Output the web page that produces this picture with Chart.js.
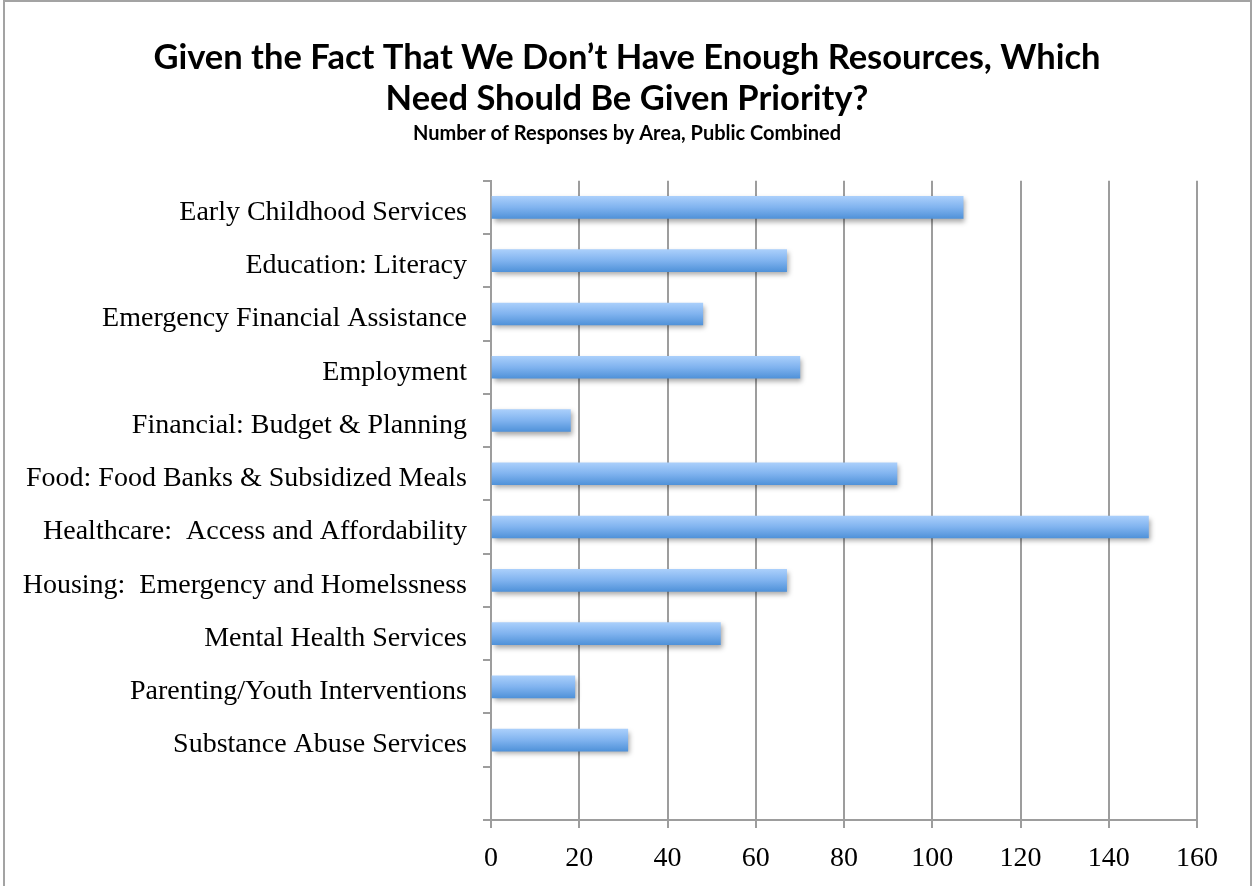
<!DOCTYPE html>
<html lang="en">
<head>
  <meta charset="UTF-8">
  <title>Priority Needs - Number of Responses by Area</title>
  <script src="https://cdn.jsdelivr.net/npm/chart.js"></script>
  <style>
    body {
      margin: 0;
      background: #fff;
    }
    #wrap {
      width: 1254px;
      height: 886px;
    }
  </style>
</head>
<body>
  <div id="wrap"><canvas id="chartNeeds"></canvas></div>

  <script>
    // Data
    const areas = [
      'Early Childhood Services',
      'Education: Literacy',
      'Emergency Financial Assistance',
      'Employment',
      'Financial: Budget & Planning',
      'Food: Food Banks & Subsidized Meals',
      'Healthcare:  Access and Affordability',
      'Housing:  Emergency and Homelssness',
      'Mental Health Services',
      'Parenting/Youth Interventions',
      'Substance Abuse Services',
      ''
    ];
    const responses = [107, 67, 48, 70, 18, 92, 149, 67, 52, 19, 31, null];
    const xTicks = [0, 20, 40, 60, 80, 100, 120, 140, 160];

    const gridColor = '#9d9d9d';
    const labelFont = 'Liberation Serif';
    const titleFont = 'Lato';

    // outer frame of the chart
    const framePlugin = {
      id: 'frame',
      afterDraw(chart) {
        const ctx = chart.ctx;
        ctx.save();
        ctx.strokeStyle = '#a3a3a3';
        ctx.lineWidth = 2;
        ctx.strokeRect(4, 1, chart.width - 7, chart.height + 10);
        ctx.restore();
      }
    };

    // soft drop shadow under the bars
    const shadowPlugin = {
      id: 'barShadow',
      beforeDatasetsDraw(chart) {
        const ctx = chart.ctx;
        ctx.save();
        ctx.shadowColor = 'rgba(0, 0, 0, 0.35)';
        ctx.shadowBlur = 5;
        ctx.shadowOffsetX = 2;
        ctx.shadowOffsetY = 3;
      },
      afterDatasetsDraw(chart) {
        chart.ctx.restore();
      }
    };

    const barThickness = 22;

    // vertical gradient per bar, light on top, darker at the bottom
    function barGradient(context) {
      const chart = context.chart;
      if (!chart.chartArea || !chart.scales.y) return '#7fb1ee';
      const yc = chart.scales.y.getPixelForValue(context.dataIndex);
      const g = chart.ctx.createLinearGradient(0, yc - barThickness / 2, 0, yc + barThickness / 2);
      g.addColorStop(0, '#aacffb');
      g.addColorStop(0.5, '#80b3ef');
      g.addColorStop(1, '#5092d9');
      return g;
    }

    new Chart(document.getElementById('chartNeeds'), {
      type: 'bar',
      data: {
        labels: areas,
        datasets: [{
          label: 'Responses',
          data: responses,
          backgroundColor: barGradient,
          borderWidth: 0,
          barThickness: barThickness
        }]
      },
      options: {
        indexAxis: 'y',
        responsive: true,
        maintainAspectRatio: false,
        animation: false,
        layout: {
          padding: { top: 3, right: 0, bottom: 0, left: 0 }
        },
        plugins: {
          legend: { display: false },
          tooltip: { enabled: false },
          title: {
            display: true,
            text: ['Given the Fact That We Don\u2019t Have Enough Resources, Which', 'Need Should Be Given Priority?'],
            color: '#000',
            font: { family: titleFont, size: 34.5, weight: 'bold', lineHeight: 1.2 },
            padding: { top: 34, bottom: 2 }
          },
          subtitle: {
            display: true,
            text: 'Number of Responses by Area, Public Combined',
            color: '#000',
            font: { family: titleFont, size: 20, weight: 'bold' },
            padding: { top: 0, bottom: 35 }
          }
        },
        scales: {
          x: {
            min: 0,
            max: 160,
            afterBuildTicks(scale) {
              scale.ticks = xTicks.map(v => ({ value: v }));
            },
            afterFit(scale) {
              scale.height = 66;
            },
            grid: {
              color: gridColor,
              lineWidth: 2,
              tickLength: 8
            },
            border: { color: gridColor, width: 2 },
            ticks: {
              color: '#000',
              padding: 14,
              maxRotation: 0,
              font: { family: labelFont, size: 28 }
            }
          },
          y: {
            afterFit(scale) {
              scale.width = 491;
            },
            grid: {
              color: gridColor,
              lineWidth: 2,
              drawOnChartArea: false,
              tickLength: 8,
              offset: true
            },
            border: { color: gridColor, width: 2 },
            ticks: {
              color: '#000',
              padding: 16,
              labelOffset: 5,
              autoSkip: false,
              font: { family: labelFont, size: 28 }
            }
          },
          // empty right-hand gutter, keeps the plot clear of the frame
          gutter: {
            type: 'linear',
            position: 'right',
            afterFit(scale) {
              scale.width = 57;
            },
            grid: { display: false },
            border: { display: false },
            ticks: { display: false }
          }
        }
      },
      plugins: [shadowPlugin, framePlugin]
    });
  </script>
</body>
</html>
